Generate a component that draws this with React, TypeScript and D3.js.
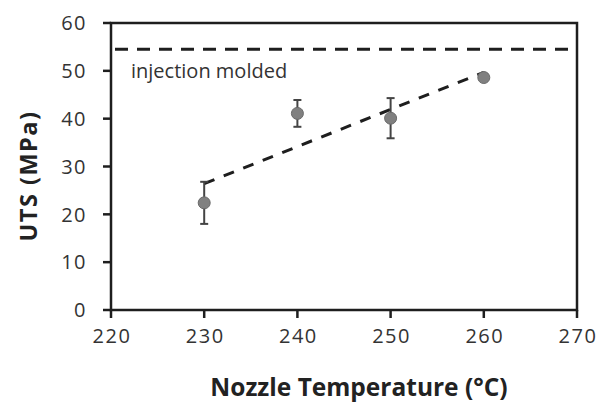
import React from "react";
import * as d3 from "d3";

// Nozzle temperature (°C) vs. ultimate tensile strength (MPa)
const temperatures = [230, 240, 250, 260];
const utsMean = [22.4, 41.1, 40.1, 48.6];
const utsError = [4.4, 2.8, 4.2, 0.6];
const injectionMolded = 54.5;
const xTicks = [220, 230, 240, 250, 260, 270];
const yTicks = [0, 10, 20, 30, 40, 50, 60];

const W = 600;
const H = 405;
const margin = { left: 111, right: 23, top: 23, bottom: 95 };

export default function App() {
  const x = d3.scaleLinear().domain([220, 270]).range([margin.left, W - margin.right]);
  const y = d3.scaleLinear().domain([0, 60]).range([H - margin.bottom, margin.top]);

  // least-squares linear fit through the means
  const mx = d3.mean(temperatures)!;
  const my = d3.mean(utsMean)!;
  const slope =
    d3.sum(temperatures, (t, i) => (t - mx) * (utsMean[i] - my)) /
    d3.sum(temperatures, (t) => (t - mx) ** 2);
  const fit = (t: number) => my + slope * (t - mx);
  const x0 = temperatures[0];
  const x1 = temperatures[temperatures.length - 1];
  const fitLine = d3.line<number>().x((t) => x(t)).y((t) => y(fit(t)))([x0, x1]) || "";

  const stroke = "#1e1e1e";
  const font = "'Open Sans', sans-serif";
  const [xl, xr] = x.range();
  const [yb, yt] = y.range();

  return (
    <svg
      width={W}
      height={H}
      style={{ position: "absolute", left: 0, top: 0, background: "#fff" }}
      fontFamily={font}
    >
      {/* frame */}
      <rect x={xl} y={yt} width={xr - xl} height={yb - yt} fill="none" stroke={stroke} strokeWidth={2.5} />

      {/* y ticks */}
      {yTicks.map((v) => (
        <g key={"y" + v}>
          <line x1={xl - 8} x2={xl} y1={y(v)} y2={y(v)} stroke={stroke} strokeWidth={2.5} />
          <text x={87} y={y(v)} dy="0.36em" textAnchor="end" fontSize={20} fill="#333" letterSpacing={1.5}>
            {v}
          </text>
        </g>
      ))}

      {/* x ticks */}
      {xTicks.map((v) => (
        <g key={"x" + v}>
          <line x1={x(v)} x2={x(v)} y1={yb} y2={yb + 8} stroke={stroke} strokeWidth={2.5} />
          <text x={x(v) + 1} y={343} textAnchor="middle" fontSize={20} fill="#333" letterSpacing={1.5}>
            {v}
          </text>
        </g>
      ))}

      {/* injection molded reference */}
      <line
        x1={xl + 4}
        x2={xr - 6}
        y1={y(injectionMolded)}
        y2={y(injectionMolded)}
        stroke={stroke}
        strokeWidth={3}
        strokeDasharray="13 9"
      />
      <text x={131} y={78} fontSize={20} fill="#333">
        injection molded
      </text>

      {/* trend line */}
      <path d={fitLine} fill="none" stroke={stroke} strokeWidth={3} strokeDasharray="11 10" />

      {/* error bars and points */}
      {temperatures.map((t, i) => {
        const cx = x(t);
        const hi = y(utsMean[i] + utsError[i]);
        const lo = y(utsMean[i] - utsError[i]);
        return (
          <g key={"p" + t}>
            <line x1={cx} x2={cx} y1={hi} y2={lo} stroke="#444" strokeWidth={2} />
            <line x1={cx - 4} x2={cx + 4} y1={hi} y2={hi} stroke="#444" strokeWidth={2} />
            <line x1={cx - 4} x2={cx + 4} y1={lo} y2={lo} stroke="#444" strokeWidth={2} />
            <circle cx={cx} cy={y(utsMean[i])} r={6} fill="#808080" stroke="#6a6a6a" strokeWidth={1} />
          </g>
        );
      })}

      {/* axis titles */}
      <text x={(xl + xr) / 2 + 15} y={396} textAnchor="middle" fontSize={24.5} fontWeight="bold" fill="#222">
        Nozzle Temperature (°C)
      </text>
      <text
        transform={`translate(37, 176) rotate(-90)`}
        textAnchor="middle"
        fontSize={23.5}
        fontWeight="bold"
        fill="#222"
        letterSpacing={1.5}
      >
        UTS (MPa)
      </text>
    </svg>
  );
}
